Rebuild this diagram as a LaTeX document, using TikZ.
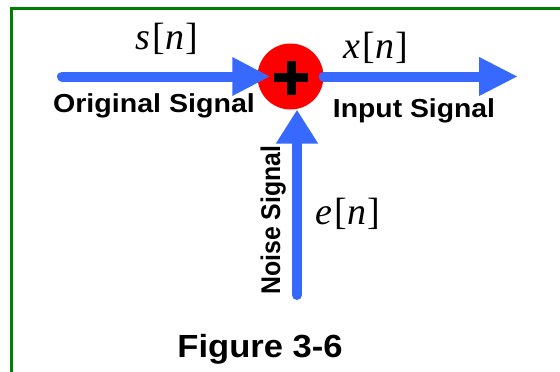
\documentclass[tikz,border=0pt]{standalone}
\usepackage{graphicx}
\usepackage{fontspec}
\setmainfont{Liberation Serif}
\newfontfamily\arialb{Liberation Sans}
\usetikzlibrary{arrows.meta,calc}
\definecolor{sigblue}{RGB}{55,105,255}
\definecolor{framegreen}{RGB}{0,128,0}
\newcommand{\sigtxt}[2]{\itshape #1\kern2pt\upshape[\kern1pt\itshape #2\kern1pt\upshape]}
\begin{document}
\begin{tikzpicture}[x=1pt,y=-1pt,
  sigarrow/.style={line width=10pt, draw=sigblue, line cap=round, -{Triangle[length=38pt,width=36pt]}},
  sumnode/.style={circle, fill=red, minimum size=66pt, inner sep=0pt},
  sumlabel/.style={font=\fontsize{38}{42}\selectfont, anchor=base, inner sep=0pt},
  signame/.style={font=\arialb\bfseries\fontsize{26}{30}\selectfont, anchor=base, inner sep=0pt},
  noisename/.style={font=\arialb\bfseries\fontsize{27}{30}\selectfont, anchor=base, inner sep=0pt, rotate=90},
  figname/.style={font=\arialb\bfseries\fontsize{32}{36}\selectfont, anchor=base, inner sep=0pt},
  framestyle/.style={draw=framegreen, line width=3pt}]
\useasboundingbox (0,0) rectangle (560,372);
\draw[framestyle] (11.3,372) -- (11.3,8.5) -- (560,8.5);
\node[sumnode] (sum) at (290.5,76.5) {};
\coordinate (sin) at (62,76.5);
\coordinate (xout) at (518,76.5);
\coordinate (ein) at (297,295);
\draw[sigarrow] (sin) -- ($(sum.west)+(13,0)$);
\draw[sigarrow, -{Triangle[length=39pt,width=36pt]}] (sum.east) -- (xout);
\draw[sigarrow, -{Triangle[length=34pt,width=40pt]}] (ein) -- (ein |- sum.south);
\draw[line width=8.5pt] ($(sum)+(-17,1)$) -- ($(sum)+(17,1)$);
\draw[line width=8.5pt] ($(sum)+(1,-16)$) -- ($(sum)+(1,18)$);
\node[sumlabel] (slab) at (167,49) {\sigtxt{s}{n}};
\node[sumlabel] (xlab) at (376,58) {\sigtxt{x}{n}};
\node[sumlabel] (elab) at (348,224) {\sigtxt{e}{n}};
\node[signame] (orig) at (154,112) {\scalebox{1.1}[1]{Original Signal}};
\node[signame] (inp) at (414,117) {\scalebox{1.09}[1]{Input Signal}};
\node[noisename] (noise) at (280,220) {\scalebox{0.92}[1]{Noise Signal}};
\node[figname] (fig) at (260,357) {\scalebox{1.08}[1]{Figure 3-6}};
\end{tikzpicture}
\end{document}
